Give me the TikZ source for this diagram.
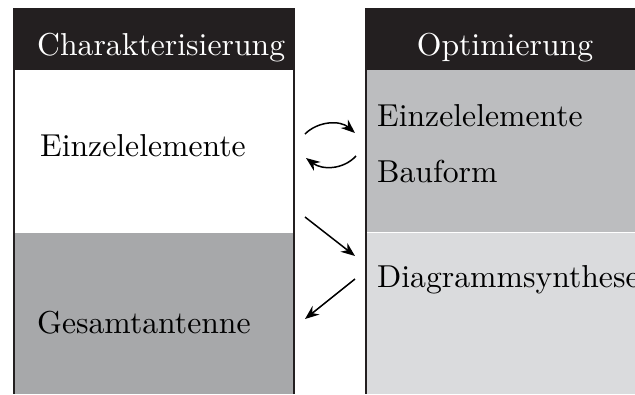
\documentclass[tikz,border=0pt]{standalone}
\usepackage{fontspec}
\newfontfamily\lmten{lmroman10-regular.otf}
\usetikzlibrary{arrows.meta}
\definecolor{hdr}{HTML}{231F20}
\definecolor{gA}{HTML}{A7A8AA}
\definecolor{gB}{HTML}{BCBDBF}
\definecolor{gC}{HTML}{DADBDD}
\begin{document}
\begin{tikzpicture}[x=1pt,y=-1pt,
  lbl/.style={inner sep=0pt,font=\lmten\fontsize{31.7}{38}\selectfont},
  hlbl/.style={lbl,text=white},
  conn/.style={line width=1.5pt,-{Stealth[length=14pt,width=11pt]}},
  border/.style={line width=1.6pt,draw=hdr}]
\useasboundingbox (0,0) rectangle (635,394);
% left column
\fill[white] (14,70) rectangle (294,233);
\fill[gA] (14,233) rectangle (294,394);
\fill[hdr] (13,8) rectangle (295,70);
\draw[border] (14,8) -- (14,394);
\draw[border] (294,8) -- (294,394);
% right column
\fill[gB] (366,70) rectangle (635,232);
\fill[gC] (366,232) rectangle (635,394);
\draw[white,line width=0.8pt] (366,232) -- (635,232);
\fill[hdr] (365,8) rectangle (635,70);
\draw[border] (366,8) -- (366,394);
% texts
\node[hlbl,anchor=base west] (hL) at (37,55) {Charakterisierung};
\node[hlbl,anchor=base] (hR) at (505,55) {Optimierung};
\node[lbl,anchor=base west] (eL) at (40,156) {Einzelelemente};
\node[lbl,anchor=base west] (gL) at (37,333) {Gesamtantenne};
\node[lbl,anchor=base west] (eR) at (377,126) {Einzelelemente};
\node[lbl,anchor=base west] (bR) at (377,182) {Bauform};
\node[lbl,anchor=base west] (dR) at (377,287) {Diagrammsynthese};
% connectors
\coordinate (a1) at (305,134);
\coordinate (a2) at (355,133);
\coordinate (b1) at (356,156);
\coordinate (b2) at (306,158);
\coordinate (c1) at (305,217);
\coordinate (c2) at (355,256);
\coordinate (d1) at (355,279);
\coordinate (d2) at (305,319);
\draw[conn] (a1) .. controls (318,121) and (340,120) .. (a2);
\draw[conn] (b1) .. controls (343,170) and (322,170) .. (b2);
\draw[conn] (c1) -- (c2);
\draw[conn] (d1) -- (d2);
\end{tikzpicture}
\end{document}
